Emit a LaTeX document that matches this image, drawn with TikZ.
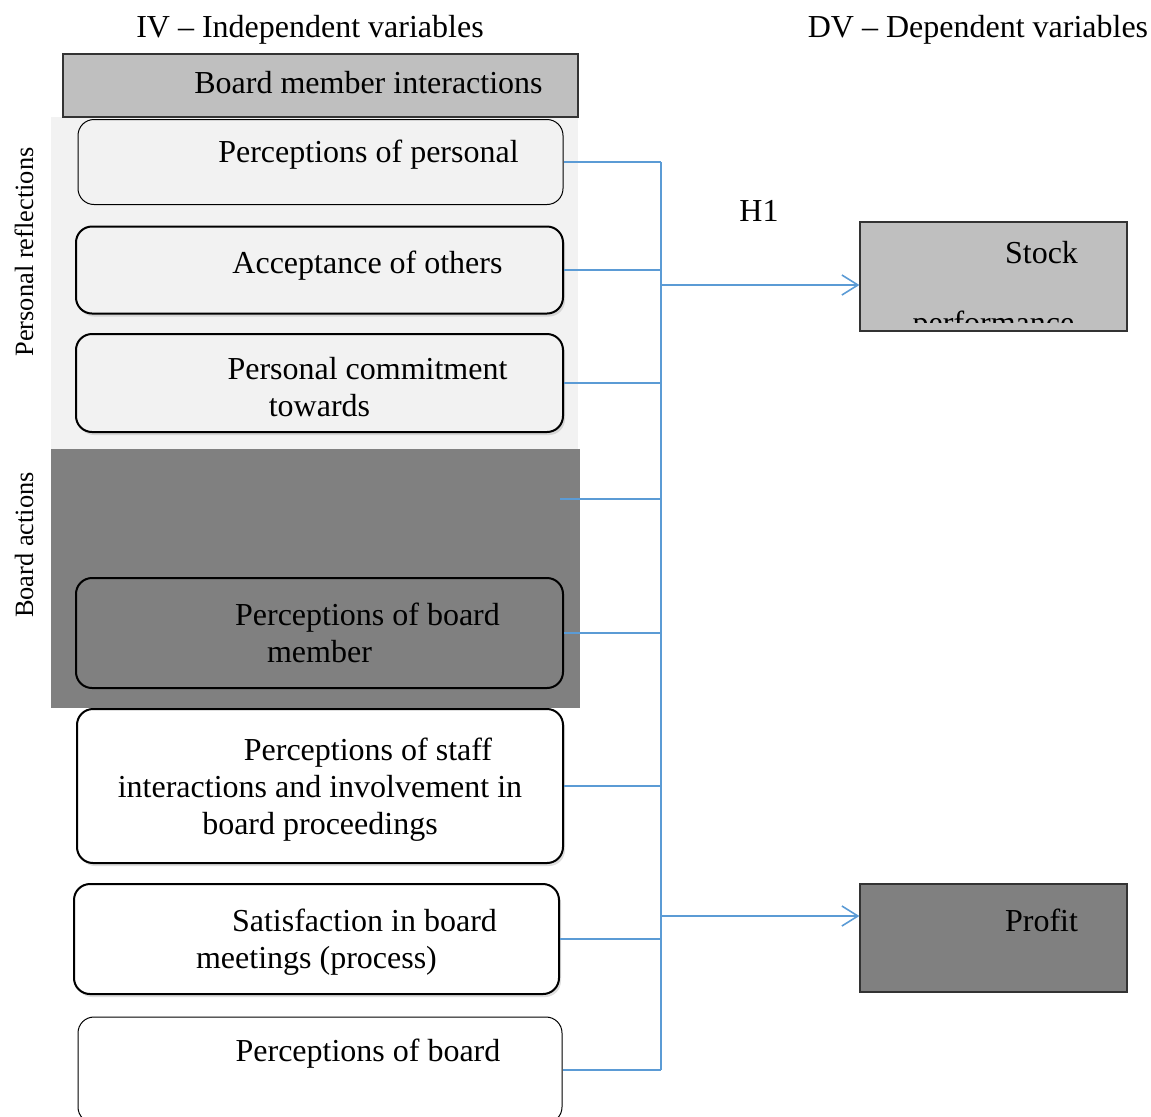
\documentclass[tikz,border=0pt]{standalone}
\usepackage{fontspec}
\setmainfont{Liberation Serif}
\usetikzlibrary{arrows.meta,positioning,shadows}
\definecolor{ink}{HTML}{000000}
\definecolor{wire}{HTML}{5B9BD5}
\definecolor{pale}{HTML}{F2F2F2}
\definecolor{mid}{HTML}{BFBFBF}
\definecolor{dark}{HTML}{808080}
\newcommand\ind{\hspace*{48pt}}
\tikzset{
  ivb/.style={draw=black, line width=1pt, rounded corners=8pt, inner sep=4pt,
              align=center, text=ink,
              drop shadow={shadow xshift=1pt, shadow yshift=-1.5pt, opacity=0.25}},
  ivt/.style={draw=black, line width=0.5pt, rounded corners=8pt, inner sep=4pt,
              align=center, text=ink},
  dvb/.style={draw=black!80, line width=0.6pt, inner sep=4pt, align=center, text=ink},
  side/.style={rotate=90, font=\fontsize{13.2}{15}\selectfont, text=ink},
  ch/.style={draw=wire, line width=0.8pt},
  hyp/.style={-{Straight Barb[length=8pt, width=10pt]}},
}

\begin{document}
\begin{tikzpicture}[x=0.5pt, y=-0.5pt, font=\fontsize{16}{18.5}\selectfont]
    \useasboundingbox (0,0) rectangle (1151,1116);
    % group backgrounds
    \fill[pale] (51,117) rectangle (578,449);
    \fill[dark] (51,449) rectangle (580,708);
    \node[text=ink] (iv) at (310,30) {IV -- Independent variables};
    \node[text=ink] (dv) at (978,30) {DV -- Dependent variables};
    \node[dvb, fill=mid, minimum width=257.5pt, minimum height=31.5pt, text depth=3.5pt] (bmi) at (320.5,85.5)
          {\ind Board member interactions};
    \node[side] (pr) at (24,252) {Personal reflections};
    \node[side] (ba) at (24,545) {Board actions};
    % independent variables
    \node[ivt, fill=pale, minimum width=242.5pt, minimum height=42.5pt, text depth=11pt] (b1) at (320.5,162)
          {\ind Perceptions of personal};
    \node[ivb, fill=pale, minimum width=243.5pt, minimum height=43.5pt, text depth=8pt] (b2) at (319.5,270)
          {\ind Acceptance of others};
    \node[ivb, fill=pale, minimum width=243.5pt, minimum height=49pt, text height=34pt] (b3) at (319.5,383)
          {\ind Personal commitment\\towards};
    \node[ivb, fill=dark, minimum width=243.5pt, minimum height=55pt] (b4) at (319.5,633)
          {\ind Perceptions of board\\member};
    \node[ivb, fill=white, minimum width=243pt, minimum height=77pt, text depth=0pt] (b5) at (320,786)
          {\ind Perceptions of staff\\interactions and involvement in\\board proceedings};
    \node[ivb, fill=white, minimum width=242.5pt, minimum height=55pt, text depth=0pt] (b6) at (316.5,939)
          {\ind Satisfaction in board\\meetings (process)};
    \node[ivt, fill=white, minimum width=242pt, minimum height=53pt, text depth=20pt] (b7) at (320,1070)
          {\ind Perceptions of board};
    % dependent variables
    \node[dvb, fill=mid, minimum width=133.5pt, minimum height=54.5pt, text depth=24.5pt] (st) at (993.5,276.5)
          {\ind Stock};
    \begin{scope}
      \clip (861,223) rectangle (1126,322);
      \node[anchor=base, text=ink] (stp) at (993.5,333) {performance};
    \end{scope}
    \node[dvb, fill=dark, minimum width=133.5pt, minimum height=54pt, text depth=18pt] (pf) at (993.5,938)
          {\ind Profit};
    \node[text=ink] (h1) at (759,211) {H1};
    % connectors
    \coordinate (bus) at (661,0);
    \coordinate (bx) at (560,499);
    \foreach \b in {b1,b2,b3,b4,b5,b6,b7}
      \draw[ch] (\b.east) -- (\b.east -| bus);
    \draw[ch] (bx) -- (bx -| bus);
    \draw[ch] (b1.east -| bus) -- (b7.east -| bus);
    \coordinate (ha) at ([yshift=-4.25pt]st.west);
    \coordinate (hb) at ([yshift=11pt]pf.west);
    \draw[ch, hyp] (ha -| bus) -- (ha);
    \draw[ch, hyp] (hb -| bus) -- (hb);
\end{tikzpicture}
\end{document}
